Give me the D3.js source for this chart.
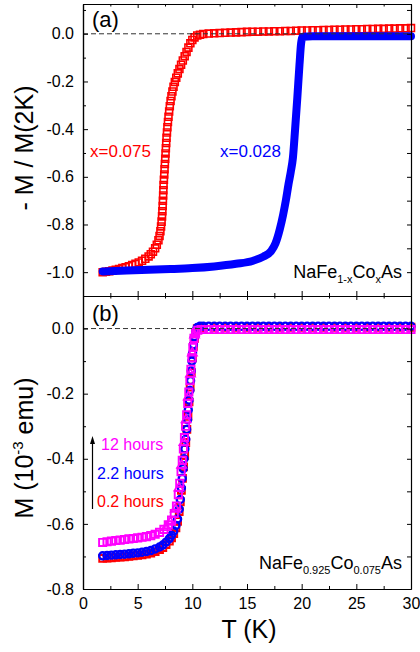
<!DOCTYPE html>
<html>
<head>
<meta charset="utf-8">
<script src="https://cdn.jsdelivr.net/npm/d3@7"></script>
<style>
  body { margin: 0; background: #fff; }
  svg text { font-family: "Liberation Sans", Arial, Helvetica, sans-serif; }
</style>
</head>
<body>
<div id="chart"></div>
<script>
// ---- data ----
// panel (a): -M/M(2K) vs T
var tempTicks = [0, 5, 10, 15, 20, 25, 30];
var tempLabels = ["0", "5", "10", "15", "20", "25", "30"];
var tempMinor = [2.5, 7.5, 12.5, 17.5, 22.5, 27.5];

var topTicks = [0, -0.2, -0.4, -0.6, -0.8, -1.0];
var topLabels = ["0.0", "-0.2", "-0.4", "-0.6", "-0.8", "-1.0"];
var topMinor = [0.1, -0.1, -0.3, -0.5, -0.7, -0.9];

var botTicks = [0, -0.2, -0.4, -0.6, -0.8];
var botLabels = ["0.0", "-0.2", "-0.4", "-0.6", "-0.8"];
var botMinor = [-0.1, -0.3, -0.5, -0.7];

// x = 0.075, open red squares
var red075 = [
  [1.8,-1.000],[2.1,-0.998],[2.4,-0.996],[2.7,-0.993],[3.0,-0.990],[3.3,-0.987],
  [3.6,-0.983],[3.9,-0.979],[4.2,-0.975],[4.5,-0.970],[4.8,-0.965],[5.1,-0.959],
  [5.4,-0.952],[5.7,-0.944],[6.0,-0.934],[6.2,-0.925],[6.4,-0.914],[6.6,-0.900],
  [6.75,-0.885],[6.9,-0.866],[7.0,-0.848],[7.08,-0.828],[7.14,-0.808],[7.19,-0.788],
  [7.23,-0.766],[7.26,-0.744],[7.29,-0.722],[7.31,-0.700],[7.33,-0.678],[7.35,-0.656],
  [7.37,-0.634],[7.40,-0.612],[7.43,-0.590],[7.46,-0.568],[7.49,-0.546],[7.52,-0.524],
  [7.55,-0.502],[7.58,-0.480],[7.61,-0.458],[7.64,-0.436],[7.68,-0.414],[7.72,-0.392],
  [7.77,-0.370],[7.82,-0.348],[7.88,-0.326],[7.94,-0.304],[8.01,-0.282],[8.09,-0.262],
  [8.18,-0.242],[8.28,-0.222],[8.40,-0.202],[8.53,-0.184],[8.67,-0.166],[8.82,-0.148],
  [8.97,-0.130],[9.13,-0.112],[9.30,-0.094],[9.47,-0.076],[9.64,-0.058],[9.82,-0.040],
  [10.0,-0.026],[10.2,-0.015],[10.45,-0.007],[10.7,-0.004],[11.0,-0.001],[11.5,0.001],
  [12.0,0.002],[12.5,0.003],[13.0,0.004],[13.5,0.005],[14.0,0.006],[14.5,0.007],
  [15.0,0.008],[15.5,0.009],[16.0,0.009],[16.5,0.010],[17.0,0.010],[17.5,0.011],
  [18.0,0.011],[18.5,0.012],[19.0,0.012],[19.5,0.013],[20.0,0.014],[20.5,0.014],
  [21.0,0.015],[21.5,0.015],[22.0,0.016],[22.5,0.016],[23.0,0.017],[23.5,0.017],
  [24.0,0.018],[24.5,0.018],[25.0,0.019],[25.5,0.019],[26.0,0.020],[26.5,0.020],
  [27.0,0.021],[27.5,0.021],[28.0,0.022],[28.5,0.022],[29.0,0.023],[29.5,0.023],[30.0,0.024]
];

// x = 0.028, dense blue band
var blue028 = [
  [1.8,-0.997],[4,-0.993],[6,-0.990],[8,-0.987],[10,-0.983],[12,-0.976],[14,-0.965],
  [15.5,-0.953],[16.5,-0.935],[17.2,-0.912],[17.6,-0.880],[18.0,-0.820],[18.3,-0.760],
  [18.55,-0.700],[18.8,-0.630],[19.0,-0.580],[19.2,-0.520],[19.4,-0.400],[19.6,-0.270],
  [19.8,-0.130],[19.95,-0.040],[20.1,-0.012],[21,-0.010],[25,-0.010],[30,-0.010]
];

// panel (b): M (10^-3 emu) vs T, three aging times
var hours02 = [
  [1.8,-0.706],[2.2,-0.705],[2.6,-0.704],[3.0,-0.703],[3.4,-0.702],[3.8,-0.701],
  [4.2,-0.700],[4.6,-0.698],[5.0,-0.697],[5.4,-0.695],[5.8,-0.693],[6.2,-0.690],
  [6.6,-0.685],[7.0,-0.679],[7.3,-0.673],[7.6,-0.664],[7.9,-0.653],[8.1,-0.643],
  [8.3,-0.630],[8.5,-0.612],[8.65,-0.592],[8.8,-0.562],[8.9,-0.532],[9.0,-0.497],
  [9.1,-0.460],[9.2,-0.425],[9.3,-0.390],[9.4,-0.350],[9.5,-0.310],[9.6,-0.270],
  [9.7,-0.225],[9.8,-0.180],[9.9,-0.135],[10.0,-0.090],[10.1,-0.055],[10.2,-0.030],
  [10.3,-0.012],[10.45,0.000],[10.7,0.003],[11,0.004],[12,0.004],[13,0.004],[14,0.004],
  [15,0.004],[16,0.004],[17,0.004],[18,0.004],[19,0.004],[20,0.004],[21,0.004],
  [22,0.004],[23,0.004],[24,0.004],[25,0.004],[26,0.004],[27,0.004],[28,0.004],
  [29,0.004],[30,0.004]
];

var hours22 = [
  [1.8,-0.698],[2.2,-0.697],[2.6,-0.696],[3.0,-0.695],[3.4,-0.694],[3.8,-0.693],
  [4.2,-0.692],[4.6,-0.690],[5.0,-0.689],[5.4,-0.687],[5.8,-0.685],[6.2,-0.682],
  [6.6,-0.677],[7.0,-0.671],[7.3,-0.665],[7.6,-0.656],[7.9,-0.645],[8.1,-0.635],
  [8.3,-0.622],[8.5,-0.605],[8.65,-0.585],[8.8,-0.555],[8.9,-0.525],[9.0,-0.490],
  [9.08,-0.460],[9.16,-0.430],[9.24,-0.400],[9.32,-0.370],[9.4,-0.340],[9.48,-0.310],
  [9.56,-0.280],[9.63,-0.250],[9.7,-0.220],[9.77,-0.190],[9.84,-0.160],[9.9,-0.130],
  [9.96,-0.100],[10.02,-0.075],[10.1,-0.050],[10.2,-0.025],[10.3,-0.008],[10.45,0.003],
  [10.7,0.007],[11.0,0.007],[11.5,0.007],[12,0.007],[12.5,0.007],[13,0.007],[13.5,0.007],
  [14,0.007],[14.5,0.007],[15,0.007],[15.5,0.007],[16,0.007],[16.5,0.007],[17,0.007],
  [17.5,0.007],[18,0.007],[18.5,0.007],[19,0.007],[19.5,0.007],[20,0.007],[20.5,0.007],
  [21,0.007],[21.5,0.007],[22,0.007],[22.5,0.007],[23,0.007],[23.5,0.007],[24,0.007],
  [24.5,0.007],[25,0.007],[25.5,0.007],[26,0.007],[26.5,0.007],[27,0.007],[27.5,0.007],
  [28,0.007],[28.5,0.007],[29,0.007],[29.5,0.007],[30,0.007]
];

var hours12sq = [
  [1.8,-0.657],[2.2,-0.655],[2.6,-0.653],[3.0,-0.651],[3.4,-0.650],[3.8,-0.648],
  [4.2,-0.646],[4.6,-0.645],[5.0,-0.643],[5.4,-0.641],[5.8,-0.639],[6.2,-0.636],
  [6.6,-0.632],[7.0,-0.626],[7.4,-0.617],[7.8,-0.603],[8.1,-0.588],[8.35,-0.568],
  [8.55,-0.545],[8.72,-0.510],[8.85,-0.475],[8.97,-0.440],[9.08,-0.405],[9.18,-0.370],
  [9.28,-0.335],[9.38,-0.300],[9.48,-0.265],[9.58,-0.230],[9.68,-0.195],[9.78,-0.160],
  [9.87,-0.125],[9.96,-0.090],[10.05,-0.058],[10.15,-0.030],[10.3,-0.012],[10.5,-0.005],
  [10.8,-0.003],[11.0,-0.003],[11.5,-0.003],[12,-0.003],[12.5,-0.003],[13,-0.003],
  [13.5,-0.003],[14,-0.003],[14.5,-0.003],[15,-0.003],[15.5,-0.003],[16,-0.003],
  [16.5,-0.003],[17,-0.003],[17.5,-0.003],[18,-0.003],[18.5,-0.003],[19,-0.003],
  [19.5,-0.003],[20,-0.003],[20.5,-0.003],[21,-0.003],[21.5,-0.003],[22,-0.003],
  [22.5,-0.003],[23,-0.003],[23.5,-0.003],[24,-0.003],[24.5,-0.003],[25,-0.003],
  [25.5,-0.003],[26,-0.003],[26.5,-0.003],[27,-0.003],[27.5,-0.003],[28,-0.003],
  [28.5,-0.003],[29,-0.003],[29.5,-0.003],[30,-0.003]
];

var hours12tri = [
  [7.6,-0.611],[8.0,-0.595],[8.45,-0.555],[8.78,-0.490],[9.02,-0.420],[9.23,-0.350],
  [9.43,-0.280],[9.63,-0.210],[9.83,-0.140],[10.0,-0.075],[10.2,-0.020]
];

// ---- layout ----
var W = 420, H = 652;
var left = 83, right = 411;
var font = '"Liberation Sans", Arial, Helvetica, sans-serif';

var svg = d3.select("#chart").append("svg")
  .attr("width", W).attr("height", H);

var x = d3.scaleLinear().domain([0, 30]).range([left, right]);
var yA = d3.scaleLinear().domain([-1.1, 0.125]).range([296, 4]);
var yB = d3.scaleLinear().domain([-0.8, 0.1]).range([589, 296]);

function styleAxis(g) {
  g.attr("font-family", font).attr("font-size", 16);
  g.selectAll("path").attr("stroke", "#000").attr("stroke-width", 1.2);
  g.selectAll("line").attr("stroke", "#000").attr("stroke-width", 1);
  g.selectAll("text").attr("fill", "#000");
}

function frame(y, major, labels, minor, xLabels) {
  var y0 = y.range()[0], y1 = y.range()[1];
  // left
  var gl = svg.append("g").attr("transform", "translate(" + left + ",0)")
    .call(d3.axisLeft(y).tickValues(major).tickSize(-5).tickSizeOuter(0).tickPadding(9)
      .tickFormat(function(d, i) { return labels[i]; }));
  styleAxis(gl);
  var glm = svg.append("g").attr("transform", "translate(" + left + ",0)")
    .call(d3.axisLeft(y).tickValues(minor).tickSize(-3).tickSizeOuter(0).tickFormat(""));
  styleAxis(glm);
  // right
  var gr = svg.append("g").attr("transform", "translate(" + right + ",0)")
    .call(d3.axisRight(y).tickValues(major.concat(minor)).tickSize(-4).tickSizeOuter(0).tickFormat(""));
  styleAxis(gr);
  // bottom
  var gb = svg.append("g").attr("transform", "translate(0," + y0 + ")")
    .call(d3.axisBottom(x).tickValues(tempTicks).tickSize(-5).tickSizeOuter(0).tickPadding(9)
      .tickFormat(function(d, i) { return xLabels ? tempLabels[i] : ""; }));
  styleAxis(gb);
  var gbm = svg.append("g").attr("transform", "translate(0," + y0 + ")")
    .call(d3.axisBottom(x).tickValues(tempMinor).tickSize(-3).tickSizeOuter(0).tickFormat(""));
  styleAxis(gbm);
  // top
  var gt = svg.append("g").attr("transform", "translate(0," + y1 + ")")
    .call(d3.axisTop(x).tickValues(tempTicks).tickSize(-4).tickSizeOuter(0).tickFormat(""));
  styleAxis(gt);
  var gtm = svg.append("g").attr("transform", "translate(0," + y1 + ")")
    .call(d3.axisTop(x).tickValues(tempMinor).tickSize(-2.5).tickSizeOuter(0).tickFormat(""));
  styleAxis(gtm);
}

function zeroLine(y) {
  svg.append("line")
    .attr("x1", left).attr("x2", right)
    .attr("y1", y(0)).attr("y2", y(0))
    .attr("stroke", "#333").attr("stroke-width", 1)
    .attr("stroke-dasharray", "5,3");
}

function markers(data, y, type, size, color, sw) {
  var sym = d3.symbol().type(type).size(size);
  svg.append("g").selectAll("path").data(data).enter().append("path")
    .attr("d", sym)
    .attr("transform", function(d) { return "translate(" + x(d[0]) + "," + y(d[1]) + ")"; })
    .attr("fill", "none")
    .attr("stroke", color)
    .attr("stroke-width", sw);
}

// ---- panel (a) ----
markers(red075, yA, d3.symbolSquare, 48, "#ff0000", 1.6);

svg.append("path")
  .datum(blue028)
  .attr("d", d3.line().x(function(d) { return x(d[0]); }).y(function(d) { return yA(d[1]); })
    .curve(d3.curveMonotoneX))
  .attr("fill", "none")
  .attr("stroke", "#0000ff")
  .attr("stroke-width", 8)
  .attr("stroke-linejoin", "round")
  .attr("stroke-linecap", "round");

zeroLine(yA);
frame(yA, topTicks, topLabels, topMinor, false);

// ---- panel (b) ----
markers(hours02, yB, d3.symbolSquare, 46, "#ff0000", 2);
markers(hours22, yB, d3.symbolCircle, 40, "#0000ff", 2.3);
markers(hours12sq, yB, d3.symbolSquare, 52, "#ff00ff", 1.9);
markers(hours12tri, yB, d3.symbolTriangle, 36, "#ff00ff", 1.7);

zeroLine(yB);
frame(yB, botTicks, botLabels, botMinor, true);

// ---- text ----
function label(txt, px, py, size, color, anchor) {
  return svg.append("text")
    .attr("x", px).attr("y", py)
    .attr("font-size", size)
    .attr("fill", color || "#000")
    .attr("text-anchor", anchor || "start")
    .text(txt);
}

label("(a)", 92, 27, 22);
label("(b)", 92, 321, 22);

label("x=0.075", 90, 157, 17, "#ff0000");
label("x=0.028", 220, 157, 17, "#0000ff");

var comp1 = svg.append("text").attr("x", 402).attr("y", 278)
  .attr("font-size", 18).attr("text-anchor", "end");
comp1.append("tspan").text("NaFe");
comp1.append("tspan").attr("font-size", 11).attr("dy", 5).text("1-x");
comp1.append("tspan").attr("dy", -5).text("Co");
comp1.append("tspan").attr("font-size", 11).attr("dy", 5).text("x");
comp1.append("tspan").attr("dy", -5).text("As");

var comp2 = svg.append("text").attr("x", 402).attr("y", 569)
  .attr("font-size", 18).attr("text-anchor", "end");
comp2.append("tspan").text("NaFe");
comp2.append("tspan").attr("font-size", 11).attr("dy", 5).text("0.925");
comp2.append("tspan").attr("dy", -5).text("Co");
comp2.append("tspan").attr("font-size", 11).attr("dy", 5).text("0.075");
comp2.append("tspan").attr("dy", -5).text("As");

label("12 hours", 101, 450, 16, "#ff00ff");
label("2.2 hours", 97, 479, 16, "#0000ff");
label("0.2 hours", 97, 507, 16, "#ff0000");

// aging arrow
svg.append("line")
  .attr("x1", 92.5).attr("x2", 92.5).attr("y1", 509).attr("y2", 442)
  .attr("stroke", "#000").attr("stroke-width", 1.2);
svg.append("path")
  .attr("d", "M92.5,436 L90,444 L95,444 Z")
  .attr("fill", "#000");

// axis titles
svg.append("text")
  .attr("transform", "translate(33,148) rotate(-90)")
  .attr("font-size", 25).attr("text-anchor", "middle")
  .text("- M / M(2K)");

var yt = svg.append("text")
  .attr("transform", "translate(33,448) rotate(-90)")
  .attr("font-size", 25).attr("text-anchor", "middle");
yt.append("tspan").text("M (10");
yt.append("tspan").attr("font-size", 15).attr("dy", -10).text("-3");
yt.append("tspan").attr("dy", 10).text(" emu)");

label("T (K)", 249, 638, 25, "#000", "middle");
</script>
</body>
</html>
